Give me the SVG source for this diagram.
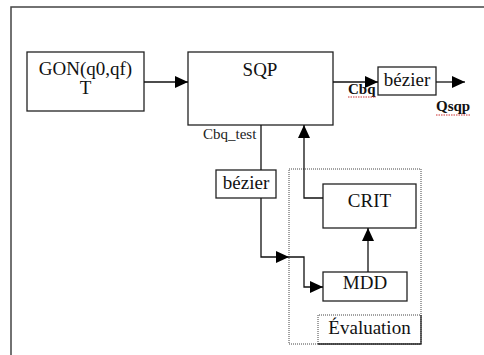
<svg xmlns="http://www.w3.org/2000/svg" width="484" height="355" viewBox="0 0 484 355">
<style>
.box{fill:#fff;stroke:#222;stroke-width:1.3}
.dot{fill:none;stroke:#444;stroke-width:1;stroke-dasharray:1 1}
.t{font-family:'Liberation Serif','DejaVu Serif',Tinos,serif;font-size:19px;fill:#111;text-anchor:middle}
.s{font-family:'Liberation Serif','DejaVu Serif',Tinos,serif;font-size:15px;fill:#222}
.b{font-family:'Liberation Serif','DejaVu Serif',Tinos,serif;font-size:15px;font-weight:bold;fill:#111}
.c{fill:none;stroke:#111;stroke-width:1.3}
.sq{fill:none;stroke:#c33;stroke-width:1;stroke-dasharray:1.5 1}
</style>
<defs>
<marker id="ah" viewBox="0 0 13 12" refX="13" refY="6" markerWidth="13" markerHeight="12" markerUnits="userSpaceOnUse" orient="auto">
<path d="M0,0 L13,6 L0,12 z" fill="#000"/>
</marker>
</defs>
<rect width="484" height="355" fill="#fff"/>
<rect x="11" y="7" width="500" height="400" fill="none" stroke="#444" stroke-width="1.5"/>

<g id="gon">
<rect class="box" x="27" y="52" width="117" height="59"/>
<text class="t" x="85.5" y="75">GON(q0,qf)</text>
<text class="t" x="85.5" y="94">T</text>
</g>
<g id="sqp">
<rect class="box" x="188" y="52" width="145" height="73"/>
<text class="t" x="260" y="76">SQP</text>
</g>
<g id="bezier1">
<rect class="box" x="378" y="67" width="58" height="28"/>
<text class="t" x="407" y="86">bézier</text>
</g>
<g id="evaluation">
<rect class="dot" x="289" y="169" width="132" height="175"/>
<path class="dot" d="M318,344 V315 H421"/>
<path d="M421,315 V344 H318" fill="none" stroke="#222" stroke-width="1.3"/>
<text class="t" x="369.5" y="334">Évaluation</text>
</g>
<g id="bezier2">
<rect class="box" x="216" y="170" width="60" height="28"/>
<text class="t" x="246" y="189">bézier</text>
</g>
<g id="crit">
<rect class="box" x="323" y="184" width="93" height="44"/>
<text class="t" x="369.5" y="207">CRIT</text>
</g>
<g id="mdd">
<rect class="box" x="323" y="272" width="84" height="29"/>
<text class="t" x="365" y="289">MDD</text>
</g>

<g id="connectors">
<path class="c" d="M144,82 H188" marker-end="url(#ah)"/>
<path class="c" d="M333,82 H378" marker-end="url(#ah)"/>
<path class="c" d="M436,82 H465" marker-end="url(#ah)"/>
<path class="c" d="M261,125 V170"/>
<path class="c" d="M261,198 V257 H289" marker-end="url(#ah)"/>
<path class="c" d="M289,257 H304 V287 H323" marker-end="url(#ah)"/>
<path class="c" d="M323,198 H304 V125" marker-end="url(#ah)"/>
<path class="c" d="M368,272 V228" marker-end="url(#ah)"/>
</g>

<g id="labels">
<text class="s" x="203" y="139">Cbq_test</text>
<text class="b" x="348" y="94">Cbq</text>
<path class="sq" d="M348,97 H376"/>
<text class="b" x="436" y="111">Qsqp</text>
<path class="sq" d="M436,115 H471"/>
</g>
</svg>
